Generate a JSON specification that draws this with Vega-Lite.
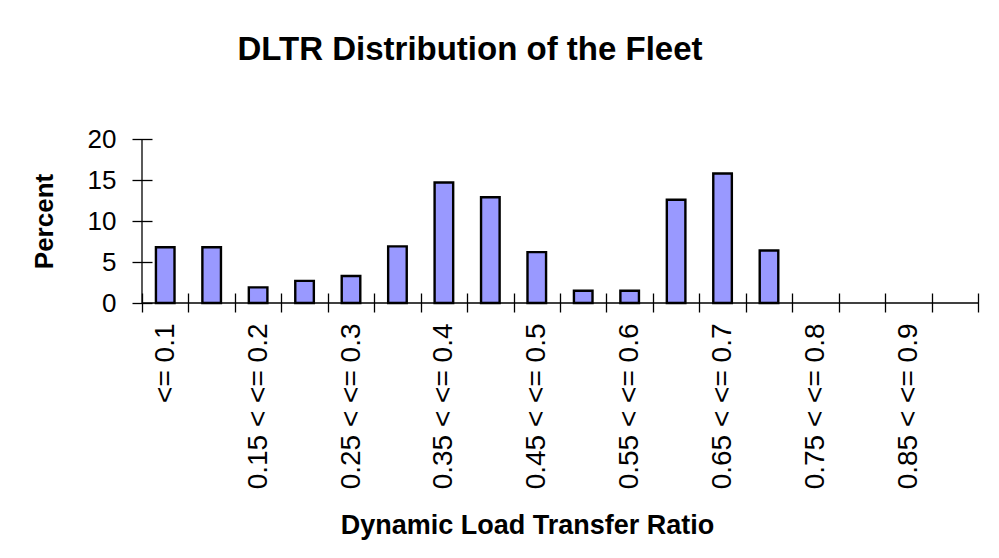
{
  "$schema": "https://vega.github.io/schema/vega-lite/v6.json",
  "width": 836,
  "height": 164,
  "autosize": {"type": "none"},
  "padding": {"left": 142, "top": 139, "right": 21, "bottom": 255},
  "background": "white",
  "config": {"view": {"stroke": null}, "font": "Liberation Sans"},
  "title": {
    "text": "DLTR Distribution of the Fleet",
    "font": "Liberation Sans",
    "fontSize": 33,
    "fontWeight": "bold",
    "color": "black",
    "anchor": "middle",
    "frame": "group",
    "dx": -90,
    "offset": 59
  },
  "datasets": {
    "bins": [
      {"range": "<= 0.1", "percent": 6.8},
      {"range": "0.1 < <= 0.15", "percent": 6.8},
      {"range": "0.15 < <= 0.2", "percent": 1.9},
      {"range": "0.2 < <= 0.25", "percent": 2.7},
      {"range": "0.25 < <= 0.3", "percent": 3.3},
      {"range": "0.3 < <= 0.35", "percent": 6.9},
      {"range": "0.35 < <= 0.4", "percent": 14.7},
      {"range": "0.4 < <= 0.45", "percent": 12.9},
      {"range": "0.45 < <= 0.5", "percent": 6.2},
      {"range": "0.5 < <= 0.55", "percent": 1.5},
      {"range": "0.55 < <= 0.6", "percent": 1.5},
      {"range": "0.6 < <= 0.65", "percent": 12.6},
      {"range": "0.65 < <= 0.7", "percent": 15.8},
      {"range": "0.7 < <= 0.75", "percent": 6.4},
      {"range": "0.75 < <= 0.8", "percent": 0},
      {"range": "0.8 < <= 0.85", "percent": 0},
      {"range": "0.85 < <= 0.9", "percent": 0},
      {"range": "0.9 < <= 0.95", "percent": 0}
    ]
  },
  "data": {"name": "bins"},
  "encoding": {
    "x": {
      "field": "range",
      "type": "nominal",
      "sort": null,
      "scale": {
        "domain": ["<= 0.1", "0.1 < <= 0.15", "0.15 < <= 0.2", "0.2 < <= 0.25", "0.25 < <= 0.3", "0.3 < <= 0.35", "0.35 < <= 0.4", "0.4 < <= 0.45", "0.45 < <= 0.5", "0.5 < <= 0.55", "0.55 < <= 0.6", "0.6 < <= 0.65", "0.65 < <= 0.7", "0.7 < <= 0.75", "0.75 < <= 0.8", "0.8 < <= 0.85", "0.85 < <= 0.9", "0.9 < <= 0.95"],
        "paddingInner": 0,
        "paddingOuter": 0
      },
      "axis": {
        "title": "Dynamic Load Transfer Ratio",
        "titleFont": "Liberation Sans",
        "titleFontSize": 27,
        "titleFontWeight": "bold",
        "titleColor": "black",
        "titleX": 385,
        "titleY": 240,
        "titleAlign": "center",
        "titleBaseline": "alphabetic",
        "labelAngle": -90,
        "labelAlign": "right",
        "labelBaseline": "middle",
        "labelFont": "Liberation Sans",
        "labelFontSize": 28,
        "labelColor": "black",
        "labelPadding": 11,
        "labelOverlap": false,
        "labelBound": false,
        "labelExpr": "indexof(['<= 0.1','0.15 < <= 0.2','0.25 < <= 0.3','0.35 < <= 0.4','0.45 < <= 0.5','0.55 < <= 0.6','0.65 < <= 0.7','0.75 < <= 0.8','0.85 < <= 0.9'], datum.value) >= 0 ? datum.value : ''",
        "tickBand": "extent",
        "tickSize": 19,
        "tickColor": "black",
        "tickWidth": 1.3,
        "domain": false,
        "grid": false,
        "offset": -10
      }
    },
    "y": {
      "field": "percent",
      "type": "quantitative",
      "scale": {"domain": [0, 20], "nice": false},
      "axis": {
        "title": "Percent",
        "titleFont": "Liberation Sans",
        "titleFontSize": 26,
        "titleFontWeight": "bold",
        "titleColor": "black",
        "titlePadding": 30,
        "values": [0, 5, 10, 15, 20],
        "labelFont": "Liberation Sans",
        "labelFontSize": 26,
        "labelColor": "black",
        "labelPadding": 16,
        "tickSize": 20,
        "tickColor": "black",
        "tickWidth": 1.3,
        "domain": false,
        "grid": false,
        "offset": -10
      }
    }
  },
  "layer": [
    {
      "transform": [{"filter": "datum.percent > 0"}],
      "mark": {"type": "bar", "fill": "#9999ff", "stroke": "black", "strokeWidth": 2.4, "width": {"band": 0.4}}
    },
    {
      "transform": [{"filter": "datum.range == '<= 0.1'"}],
      "mark": {"type": "rule", "color": "black", "strokeWidth": 1.3},
      "encoding": {
        "x": {"field": "range", "type": "nominal", "bandPosition": 0},
        "y": {"datum": 0, "type": "quantitative"},
        "y2": {"datum": 20}
      }
    },
    {
      "transform": [{"filter": "datum.range == '<= 0.1'"}],
      "mark": {"type": "rule", "color": "black", "strokeWidth": 1.3},
      "encoding": {
        "x": {"field": "range", "type": "nominal", "bandPosition": 0},
        "x2": {"datum": "0.9 < <= 0.95", "bandPosition": 1},
        "y": {"datum": 0, "type": "quantitative"}
      }
    }
  ]
}
